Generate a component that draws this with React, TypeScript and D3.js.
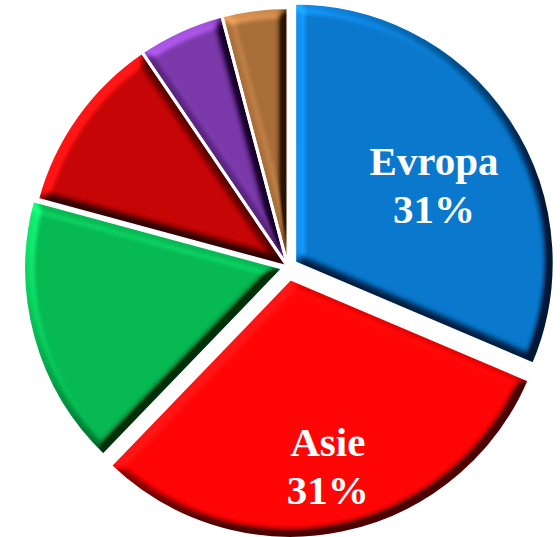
import * as d3 from 'd3';
import React, { useRef, useEffect } from 'react';

// share per region (only the two big ones carry a label)
const regions = ['Evropa', 'Asie', 'Afrika', 'Amerika', 'Austrálie', 'Ostatní'];
const shares = [31.4, 30.8, 17.0, 11.3, 5.4, 4.1];
const sliceColors = ['#0a78cc', '#ff0505', '#06b853', '#c50606', '#7a38a8', '#a86e3a'];
const explode = [8, 12, 5, 0, 0, 0];
const labelled = ['Evropa', 'Asie'];

const width = 560;
const height = 537;

function App() {
    const ref = useRef<SVGSVGElement>(null);

    useEffect(() => {
        const svg = d3.select(ref.current);
        svg.selectAll('*').remove();

        const cx = 288, cy = 267, R = 259.5;

        const data = regions.map((name, i) => ({
            name,
            value: shares[i],
            color: sliceColors[i],
            offset: explode[i],
        }));

        const pie = d3.pie<any>().value(d => d.value).sort(null);
        const arcs = pie(data);
        const arc = d3.arc<any>().innerRadius(0).outerRadius(R);

        // soft bevel: blurred alpha used as a height map, lit from the top left
        const defs = svg.append('defs');
        const f = defs.append('filter')
            .attr('id', 'bevel')
            .attr('color-interpolation-filters', 'sRGB');
        f.append('feMorphology')
            .attr('in', 'SourceAlpha')
            .attr('operator', 'erode')
            .attr('radius', 2)
            .attr('result', 'shrunk');
        f.append('feGaussianBlur')
            .attr('in', 'shrunk')
            .attr('stdDeviation', 4)
            .attr('result', 'blur');
        f.append('feDiffuseLighting')
            .attr('in', 'blur')
            .attr('surfaceScale', 10)
            .attr('diffuseConstant', 0.78)
            .attr('lighting-color', '#fff')
            .attr('result', 'light')
            .append('feDistantLight')
            .attr('azimuth', 225)
            .attr('elevation', 40);
        // flat parts (light = 0.5) keep their colour, edges get tinted lighter / darker
        f.append('feComposite')
            .attr('in', 'SourceGraphic')
            .attr('in2', 'light')
            .attr('operator', 'arithmetic')
            .attr('k1', 1.2).attr('k2', 0.4).attr('k3', 0.2).attr('k4', -0.1)
            .attr('result', 'lit');
        f.append('feComposite')
            .attr('in', 'lit')
            .attr('in2', 'SourceAlpha')
            .attr('operator', 'in');

        const shift = (d: any) => {
            const a = (d.startAngle + d.endAngle) / 2;
            return [cx + d.data.offset * Math.sin(a), cy - d.data.offset * Math.cos(a)];
        };

        const g = svg.append('g');

        g.selectAll('path.slice')
            .data(arcs)
            .join('path')
            .attr('class', 'slice')
            .attr('transform', d => `translate(${shift(d)})`)
            .attr('d', arc)
            .attr('fill', d => d.data.color)
            .attr('filter', 'url(#bevel)');

        // white borders between slices
        g.selectAll('path.border')
            .data(arcs)
            .join('path')
            .attr('class', 'border')
            .attr('transform', d => `translate(${shift(d)})`)
            .attr('d', arc)
            .attr('fill', 'none')
            .attr('stroke', '#fff')
            .attr('stroke-width', 3)
            .attr('stroke-linejoin', 'miter');

        const labelPlace: Record<string, { r: number; turn: number }> = {
            Evropa: { r: 0.59, turn: 9 },
            Asie: { r: 0.79, turn: 1 },
        };

        const labels = g.selectAll('g.label')
            .data(arcs.filter(d => labelled.includes(d.data.name)))
            .join('g')
            .attr('class', 'label')
            .attr('transform', d => {
                const [x0, y0] = shift(d);
                const p = labelPlace[d.data.name];
                const a = (d.startAngle + d.endAngle) / 2 + p.turn * Math.PI / 180;
                return `translate(${x0 + p.r * R * Math.sin(a)},${y0 - p.r * R * Math.cos(a)})`;
            })
            .style('font-family', "'Liberation Serif', 'Times New Roman', serif")
            .style('font-weight', 'bold')
            .style('font-size', '41px')
            .attr('fill', '#fff')
            .attr('text-anchor', 'middle');

        labels.append('text')
            .attr('y', -24)
            .text(d => d.data.name);
        labels.append('text')
            .attr('y', 24)
            .text(d => `${Math.round(d.data.value)}%`);
    }, []);

    return (
        <svg
            ref={ref}
            width={width}
            height={height}
            style={{ position: 'absolute', left: 0, top: 0, background: '#fff' }}
        />
    );
}

export default App;
